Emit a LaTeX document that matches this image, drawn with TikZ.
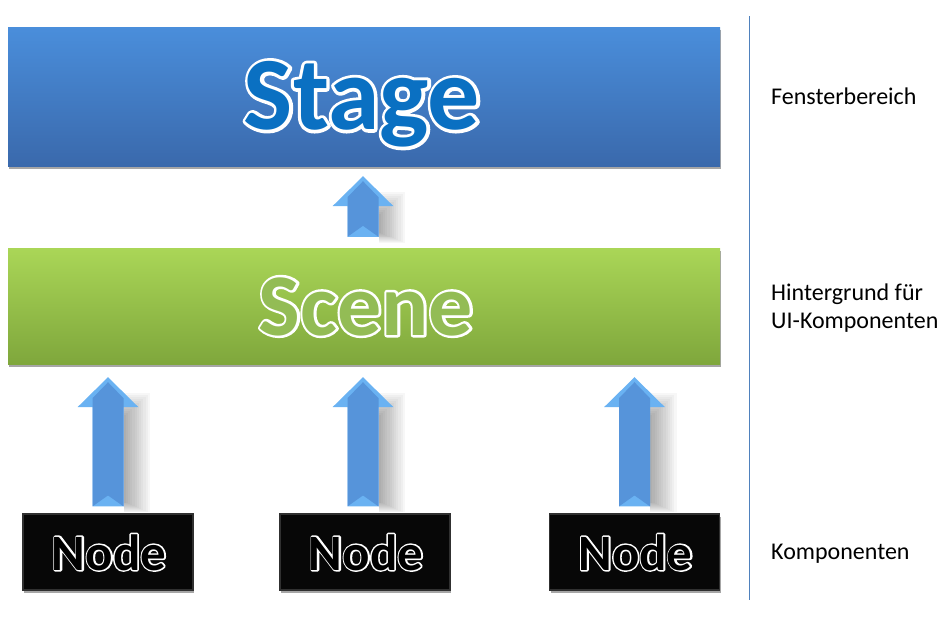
\documentclass[tikz,border=0pt]{standalone}
\usepackage{fontspec}
\setmainfont{Carlito}
\usetikzlibrary{calc,shadows}
\definecolor{stagetop}{HTML}{4A8EDB}
\definecolor{stagebot}{HTML}{3A69AC}
\definecolor{stagetext}{HTML}{0A70C2}
\definecolor{scenetop}{HTML}{AAD657}
\definecolor{scenebot}{HTML}{7FA73C}
\definecolor{scenetext}{HTML}{93BC55}
\definecolor{nodefill}{HTML}{070707}
\definecolor{nodeedge}{HTML}{303030}
\definecolor{arrlight}{HTML}{6AB2F2}
\definecolor{arrdark}{HTML}{5694DA}
\definecolor{sepcol}{HTML}{4F81BD}
% outlined text: a white stroked copy under the filled text
\newcommand{\olt}[2]{\rlap{\color{white}\special{pdf:literal direct #1 w 1 j 2 Tr}#2\special{pdf:literal direct 0 Tr}}#2}
\newcommand{\blockarrow}[2]{% #1 base coordinate, #2 tip coordinate
  \foreach \k in {0,...,11}{%
    \fill[black, opacity=0.032] let \p1=(#2), \p2=(#1) in
      ({\x1+15.5pt},{\y1-(16+2*\k)*1pt}) rectangle ({\x1+(42-2.2*\k)*1pt},{\y2-(6-0.9*\k)*1pt});
  }
  \fill[arrlight] let \p1=(#2), \p2=(#1) in
    (\x1,\y1) -- (\x1+30.5pt,\y1-30pt) -- (\x1+15.5pt,\y1-30pt) -- (\x1+15.5pt,\y2)
    -- (\x1-15.5pt,\y2) -- (\x1-15.5pt,\y1-30pt) -- (\x1-30.5pt,\y1-30pt) -- cycle;
  \fill[arrdark] let \p1=(#2), \p2=(#1) in
    (\x1,\y1-5pt) -- (\x1+15.5pt,\y1-21pt) -- (\x1+15.5pt,\y2) -- (\x1,\y2+11pt)
    -- (\x1-15.5pt,\y2) -- (\x1-15.5pt,\y1-21pt) -- cycle;
}
\begin{document}
\begin{tikzpicture}[x=1pt,y=-1pt,
  boxshadow/.style={drop shadow={shadow xshift=1pt,shadow yshift=-3pt,opacity=0.35,fill=black}},
  stagebox/.style={rectangle, inner sep=0pt, minimum width=712pt, minimum height=139pt,
    top color=stagetop, bottom color=stagebot, boxshadow},
  scenebox/.style={rectangle, inner sep=0pt, minimum width=712pt, minimum height=116pt,
    top color=scenetop, bottom color=scenebot, boxshadow},
  compbox/.style={rectangle, inner sep=0pt, minimum width=170pt, minimum height=76pt,
    fill=nodefill, draw=nodeedge, line width=1.2pt, boxshadow},
  bigtext/.style={inner sep=0pt, anchor=base, text=stagetext, font=\fontsize{104}{110}\selectfont\bfseries},
  midtext/.style={inner sep=0pt, anchor=base, text=scenetext, font=\fontsize{88}{95}\selectfont\bfseries},
  smalltext/.style={inner sep=0pt, anchor=base, text=black, font=\fontsize{51}{56}\selectfont\bfseries},
  lbl/.style={inner sep=0pt, anchor=base west, align=left, font=\fontsize{24}{28}\selectfont},
  sepline/.style={draw=sepcol, line width=1pt}]
\useasboundingbox (0,0) rectangle (947,619);

% boxes
\node[stagebox] (stage) at (364,96.5) {};
\node[scenebox] (scene) at (364,306) {};
\node[compbox] (n1) at (108,552) {};
\node[compbox] (n2) at (365,552) {};
\node[compbox] (n3) at (634.5,552) {};

% box texts
\node[bigtext] (stagetxt) at ($(stage.center)+(-2,33)$) {\olt{6.5}{Stage}};
\node[midtext] (scenetxt) at ($(scene.center)+(2,29)$) {\olt{5}{Scene}};
\node[smalltext] (n1txt) at ($(n1.center)+(1,18)$) {\olt{3}{Node}};
\node[smalltext] (n2txt) at ($(n2.center)+(1,18)$) {\olt{3}{Node}};
\node[smalltext] (n3txt) at ($(n3.center)+(1,18)$) {\olt{3}{Node}};

% arrows
\coordinate (a0tip) at ($(stage.south)+(-1,10)$);
\coordinate (a0base) at ($(scene.north)+(-1,-11)$);
\coordinate (a1tip) at ($(scene.south -| n1.north)+(0,13)$);
\coordinate (a1base) at ($(n1.north)+(0,-7)$);
\coordinate (a2tip) at ($(scene.south -| n2.north)+(-2,13)$);
\coordinate (a2base) at ($(n2.north)+(-2,-7)$);
\coordinate (a3tip) at ($(scene.south -| n3.north)+(0,13)$);
\coordinate (a3base) at ($(n3.north)+(0,-7)$);
\blockarrow{a0base}{a0tip}
\blockarrow{a1base}{a1tip}
\blockarrow{a2base}{a2tip}
\blockarrow{a3base}{a3tip}

% separator and labels
\coordinate (sepT) at (749,16);
\coordinate (sepB) at (749,600);
\draw[sepline] (sepT) -- (sepB);
\node[lbl] (l1) at (771,104) {Fensterbereich};
\node[lbl] (l2) at (771,328) {Hintergrund für\\UI-Komponenten};
\node[lbl] (l3) at (771,559) {Komponenten};
\end{tikzpicture}
\end{document}
